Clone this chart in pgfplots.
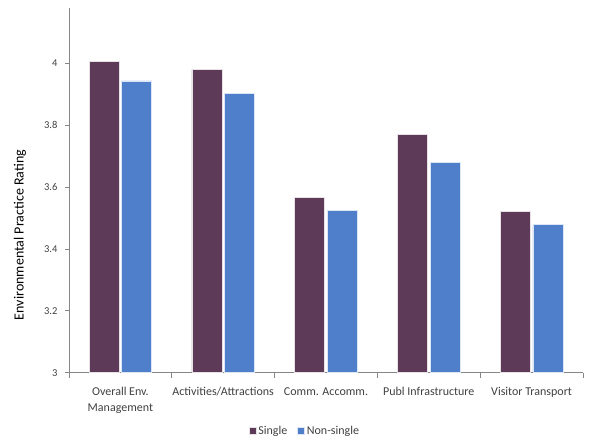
\documentclass[border=0pt]{standalone}
\usepackage{pgfplots}
\pgfplotsset{compat=1.18}
\usepackage{fontspec}
\setmainfont{Carlito}
\definecolor{single}{HTML}{5C3A58}
\definecolor{nonsingle}{HTML}{4F7FCB}
\definecolor{axgray}{HTML}{868686}
\definecolor{txt}{HTML}{404040}
\begin{document}
\begin{tikzpicture}
\begin{axis}[
  name=ax,
  at={(0,0)}, anchor=south west,
  scale only axis,
  width=514pt, height=364.7pt,
  xmin=-0.5, xmax=4.5, ymin=3, ymax=4.18,
  ybar=2.6pt, bar width=30pt,
  axis x line*=bottom, axis y line*=left,
  axis line style={axgray, line width=0.8pt},
  xtick={0,1,2,3,4},
  xticklabels={{Overall Env.\\Management},{Activities/Attractions},{Comm. Accomm.},{Publ Infrastructure},{Visitor Transport}},
  xticklabel style={align=center, text=txt, font=\fontsize{12}{15.5}\selectfont, yshift=-7pt},
  major x tick style={draw=none},
  minor xtick={-0.5,0.5,1.5,2.5,3.5,4.5},
  minor x tick style={axgray, line width=0.8pt},
  minor tick length=5pt,
  ytick={3,3.2,3.4,3.6,3.8,4},
  yticklabels={3,3.2,3.4,3.6,3.8,4},
  yticklabel style={text=txt, font=\fontsize{10.5}{12.5}\selectfont, xshift=-4pt},
  major y tick style={axgray, line width=0.8pt},
  major tick length=4pt,
  tick align=outside,
  /pgf/number format/assume math mode=true,
  ylabel={Environmental Practice Rating},
  every axis y label/.style={at={(rel axis cs:0,0.3776)}, rotate=90, anchor=center, yshift=49pt, font=\fontsize{14}{16}\selectfont, text=black},
  legend style={at={(0.459,-0.159)}, anchor=center, draw=none, fill=none,
    legend columns=2, font=\fontsize{12}{14.5}\selectfont, text=txt,
    /tikz/every even column/.append style={column sep=8pt}},
  legend image code/.code={\fill[#1] (0pt,-3.5pt) rectangle (7pt,3.5pt);},
  legend cell align=left,
  clip=false,
]
\addplot[fill=single, draw=white!85!single, line width=0.6pt] coordinates {(0,4.008) (1,3.981) (2,3.567) (3,3.770) (4,3.521)};
\addplot[fill=nonsingle, draw=white!80!nonsingle, line width=0.6pt] coordinates {(0,3.944) (1,3.904) (2,3.525) (3,3.681) (4,3.480)};
\legend{Single, Non-single}
\end{axis}
\path ([xshift=-69pt,yshift=-73.3pt]ax.south west) rectangle ([xshift=22pt,yshift=8pt]ax.north east);
\end{tikzpicture}
\end{document}
